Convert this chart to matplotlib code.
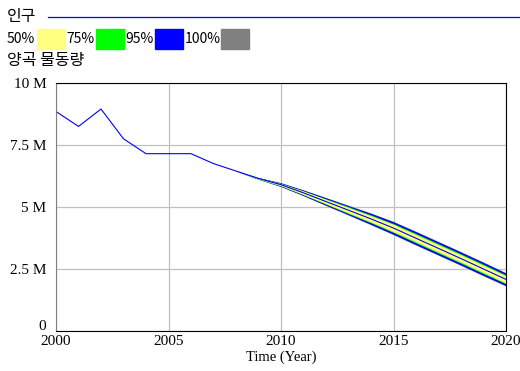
import matplotlib.pyplot as plt
from matplotlib.patches import Rectangle
import matplotlib.transforms as mtransforms

# 인구 기준 시나리오 (양곡 물동량, 단위: 백만)
years = list(range(2000, 2021))
base = [8.85, 8.25, 8.95, 7.75, 7.15, 7.15, 7.15, 6.75, 6.45, 6.15, 5.90,
        5.57, 5.22, 4.87, 4.52, 4.15, 3.74, 3.33, 2.92, 2.50, 2.08]

# 민감도 구간 (2008~2020)
band_years = list(range(2008, 2021))
hi100 = [6.45, 6.19, 5.98, 5.69, 5.38, 5.07, 4.76, 4.42, 4.02, 3.61, 3.20, 2.78, 2.35]
lo100 = [6.45, 6.11, 5.82, 5.45, 5.06, 4.67, 4.28, 3.88, 3.46, 3.05, 2.64, 2.22, 1.81]
hi95 = [6.45, 6.18, 5.97, 5.68, 5.37, 5.05, 4.74, 4.40, 4.00, 3.59, 3.18, 2.76, 2.33]
lo95 = [6.45, 6.12, 5.83, 5.46, 5.07, 4.69, 4.30, 3.90, 3.48, 3.07, 2.66, 2.24, 1.83]
hi75 = [6.45, 6.18, 5.95, 5.65, 5.33, 5.01, 4.68, 4.33, 3.93, 3.52, 3.11, 2.69, 2.26]
lo75 = [6.45, 6.12, 5.85, 5.49, 5.11, 4.73, 4.36, 3.97, 3.55, 3.14, 2.73, 2.31, 1.90]
hi50 = [6.45, 6.17, 5.94, 5.64, 5.31, 4.98, 4.65, 4.30, 3.89, 3.48, 3.07, 2.65, 2.23]
lo50 = [6.45, 6.13, 5.86, 5.50, 5.13, 4.76, 4.39, 4.00, 3.59, 3.18, 2.77, 2.35, 1.93]

labels = ['50%', '75%', '95%', '100%']
colors = ['#ffff80', '#00ff00', '#0000ff', '#808080']

serif = ['Liberation Serif', 'DejaVu Serif']
kfont = ['Noto Sans CJK KR', 'DejaVu Sans']

fig = plt.figure(figsize=(5.2, 3.71), dpi=100)
ax = fig.add_axes([56 / 520, 1 - 331 / 371, 450 / 520, 248 / 371])

ax.fill_between(band_years, lo100, hi100, color=colors[3], lw=0)
ax.fill_between(band_years, lo95, hi95, color=colors[2], lw=0)
ax.fill_between(band_years, lo75, hi75, color=colors[1], lw=0)
ax.fill_between(band_years, lo50, hi50, color=colors[0], lw=0)
ax.plot(years, base, color='#0000ff', lw=0.8)

ax.set_xlim(2000, 2020)
ax.set_ylim(0, 10)
ax.set_xticks([2000, 2005, 2010, 2015, 2020])
ax.set_yticks([0, 2.5, 5, 7.5, 10])
ax.set_yticklabels(['0', '2.5 M', '5 M', '7.5 M', '10 M'], family=serif, fontsize=11)
ax.set_xticklabels([str(y) for y in [2000, 2005, 2010, 2015, 2020]], family=serif, fontsize=11)
ax.tick_params(axis='y', length=0, pad=7)
ax.tick_params(axis='x', length=0, pad=3)
# "0" 라벨은 살짝 위로
zero = ax.get_yticklabels()[0]
zero.set_transform(zero.get_transform() + mtransforms.ScaledTranslation(0, 4 / 72, fig.dpi_scale_trans))
ax.grid(True, color='#c0c0c0', lw=0.9)
ax.set_axisbelow(True)
for s in ['top', 'right', 'bottom']:
    ax.spines[s].set_color('black')
ax.spines['left'].set_color('#808080')
ax.set_xlabel('Time (Year)', family=serif, fontsize=10.5, labelpad=2)

# 상단 범례
fig.text(7 / 520, 1 - 17 / 371, '인구', family=kfont, fontsize=11.5, va='center')
fig.add_artist(plt.Line2D([48 / 520, 1], [1 - 17 / 371] * 2, color='#0000ff', lw=0.9))
box_x = [37, 96, 155, 221]
txt_x = [7, 66, 125, 185]
for lab, c, bx, tx in zip(labels, colors, box_x, txt_x):
    fig.text(tx / 520, 1 - 39 / 371, lab, family=kfont, fontsize=10, va='center')
    fig.add_artist(Rectangle((bx / 520, 1 - 49 / 371), 28 / 520, 20 / 371,
                             color=c, transform=fig.transFigure))
fig.text(7 / 520, 1 - 61 / 371, '양곡 물동량', family=kfont, fontsize=11.5, va='center')

fig.savefig('out.png', dpi=100)
